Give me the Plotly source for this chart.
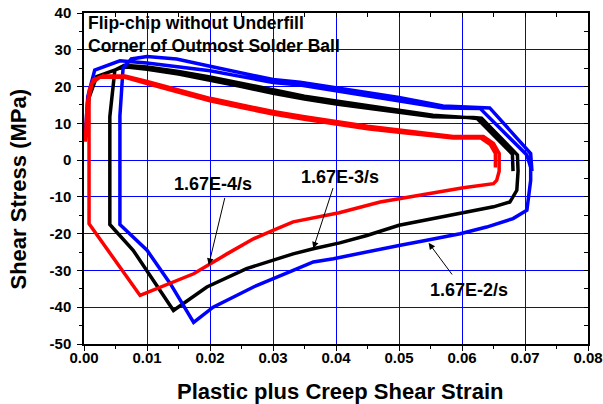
import plotly.graph_objects as go

# ---------------- data ----------------
# 1.67E-4/s (red)
strain_slow = [0.0002, 0.0005, 0.0009, 0.0015, 0.003, 0.0065, 0.010, 0.015, 0.020, 0.025,
               0.030, 0.035, 0.0405, 0.045, 0.050, 0.055, 0.0586, 0.0634, 0.065, 0.0659,
               0.0659, 0.0655, 0.065, 0.0602, 0.050, 0.047, 0.0405, 0.0332, 0.030, 0.0269,
               0.0227, 0.0174, 0.0089, 0.0008, 0.0008, 0.0013, 0.0025, 0.0065, 0.010, 0.015,
               0.020, 0.025, 0.030, 0.035, 0.0405, 0.045, 0.050, 0.055, 0.0586, 0.0630,
               0.0645, 0.0653, 0.0653]
stress_slow = [5.0, 15.0, 19.5, 21.8, 22.9, 22.9, 21.4, 19.0, 16.8, 15.0,
               13.2, 11.8, 10.3, 9.2, 8.2, 7.2, 6.4, 6.4, 4.5, 1.8,
               -3.0, -5.5, -6.4, -7.5, -10.5, -11.4, -14.3, -16.8, -19.1, -21.4,
               -25.5, -30.9, -36.8, -17.3, 17.0, 21.0, 22.5, 22.5, 20.8, 18.4,
               16.1, 14.3, 12.5, 11.1, 9.6, 8.5, 7.6, 6.6, 6.0, 6.0,
               4.2, 1.8, -2.0]

# 1.67E-3/s (black)
strain_mid = [0.0002, 0.0008, 0.002, 0.0057, 0.0068, 0.010, 0.015, 0.020, 0.025, 0.030,
              0.035, 0.0403, 0.045, 0.050, 0.0554, 0.0618, 0.0631, 0.0688, 0.0689, 0.0687,
              0.0676, 0.065, 0.0608, 0.0554, 0.050, 0.0449, 0.0406, 0.0364, 0.0332, 0.0258,
              0.0195, 0.0142, 0.011, 0.0078, 0.0041, 0.0041, 0.0049, 0.0064, 0.010, 0.015,
              0.020, 0.025, 0.030, 0.035, 0.0403, 0.045, 0.050, 0.0554, 0.0612, 0.0624,
              0.0680, 0.0681]
stress_mid = [6.0, 17.0, 22.7, 25.0, 25.3, 24.7, 23.4, 21.8, 20.0, 18.2,
              16.6, 15.2, 14.1, 13.0, 11.8, 11.6, 11.4, 1.4, -3.0, -8.2,
              -11.4, -12.7, -14.1, -15.9, -17.7, -20.5, -22.5, -24.1, -25.5, -29.5,
              -34.5, -40.9, -32.7, -24.5, -17.5, 11.8, 24.5, 25.8, 25.3, 24.1,
              22.6, 20.8, 19.0, 17.4, 16.0, 14.8, 13.6, 12.2, 11.5, 11.3,
              1.6, -3.0]

# 1.67E-2/s (blue)
strain_fast = [0.0002, 0.0006, 0.0017, 0.0057, 0.010, 0.015, 0.020, 0.025, 0.030, 0.0343,
               0.0401, 0.045, 0.050, 0.057, 0.0629, 0.0703, 0.0709, 0.0709, 0.0703, 0.0681,
               0.0639, 0.0597, 0.0544, 0.050, 0.0396, 0.0364, 0.0332, 0.0269, 0.0205, 0.0174,
               0.0137, 0.010, 0.0057, 0.0057, 0.0062, 0.0075, 0.010, 0.0147, 0.020, 0.025,
               0.030, 0.0343, 0.0401, 0.045, 0.050, 0.057, 0.0644, 0.0709, 0.0711]
stress_fast = [6.6, 17.3, 24.5, 27.0, 26.4, 25.3, 24.3, 22.7, 21.1, 20.4,
               18.8, 17.6, 16.3, 14.2, 14.0, 1.4, -2.0, -5.5, -13.6, -15.9,
               -18.2, -20.0, -21.8, -23.2, -26.8, -27.7, -30.0, -34.5, -40.0, -44.1,
               -33.6, -24.5, -17.5, 12.0, 25.0, 27.5, 28.2, 27.5, 25.5, 23.6,
               21.9, 21.2, 19.6, 18.4, 17.0, 14.7, 14.2, 1.8, -3.0]

x_ticks = [0.00, 0.01, 0.02, 0.03, 0.04, 0.05, 0.06, 0.07, 0.08]
x_ticklabels = ["0.00", "0.01", "0.02", "0.03", "0.04", "0.05", "0.06", "0.07", "0.08"]
y_ticks = [-50, -40, -30, -20, -10, 0, 10, 20, 30, 40]
y_ticklabels = ["-50", "-40", "-30", "-20", "-10", "0", "10", "20", "30", "40"]

rate_labels = ["1.67E-4/s", "1.67E-3/s", "1.67E-2/s"]
rate_colors = ["#FF0000", "#000000", "#0000FF"]
label_pos = [(0.0204, -6.5), (0.0407, -4.6), (0.0611, -35.3)]
arrow_tail = [(0.0224, -9.9), (0.0396, -7.2), (0.0586, -31.5)]
arrow_tip = [(0.0198, -28.5), (0.0364, -24.0), (0.0547, -22.5)]

title_lines = ["Flip-chip without Underfill", "Corner of Outmost Solder Ball"]
x_title = "Plastic plus Creep Shear Strain"
y_title = "Shear Stress (MPa)"

FONT = "Arial, Liberation Sans, sans-serif"

fig = go.Figure()
for xs, ys, col in [(strain_mid, stress_mid, rate_colors[1]),
                    (strain_fast, stress_fast, rate_colors[2]),
                    (strain_slow, stress_slow, rate_colors[0])]:
    fig.add_trace(go.Scatter(x=xs, y=ys, mode="lines",
                             line=dict(color=col, width=3.5),
                             showlegend=False, hoverinfo="skip"))

# helper invisible trace for mirrored inner ticks
fig.add_trace(go.Scatter(x=[0.04], y=[0], xaxis="x2", yaxis="y2", mode="markers",
                         marker=dict(opacity=0), showlegend=False, hoverinfo="skip"))

tickfont = dict(family=FONT, size=15, color="black", weight="bold")

fig.update_layout(
    width=603, height=404,
    margin=dict(l=84, r=15, t=13, b=60),
    plot_bgcolor="white", paper_bgcolor="white",
    showlegend=False,
    xaxis=dict(range=[0, 0.08], tickmode="array", tickvals=x_ticks,
               ticktext=["<b>%s</b>" % t for t in x_ticklabels],
               ticks="outside", ticklen=5, tickwidth=1.2, tickcolor="black",
               showline=True, linecolor="black", linewidth=1.5, mirror=True,
               showgrid=True, gridcolor="#0000FF", gridwidth=1, zeroline=False,
               tickfont=tickfont, ticklabelstandoff=-6, automargin=False,
               minor=dict(dtick=0.005, tick0=0, ticks="outside", ticklen=3, tickwidth=1.2,
                          tickcolor="black", showgrid=False)),
    yaxis=dict(range=[-50, 40], tickmode="array", tickvals=y_ticks,
               ticktext=["<b>%s</b>" % t for t in y_ticklabels],
               ticks="outside", ticklen=5, tickwidth=1.2, tickcolor="black",
               showline=True, linecolor="black", linewidth=1.5, mirror=True,
               showgrid=True, gridcolor="#0000FF", gridwidth=1, zeroline=False,
               tickfont=tickfont, ticklabelstandoff=3, automargin=False,
               minor=dict(dtick=5, tick0=0, ticks="outside", ticklen=3, tickwidth=1.2,
                          tickcolor="black", showgrid=False)),
    xaxis2=dict(overlaying="x", side="top", anchor="y", range=[0, 0.08], tick0=0,
                dtick=0.005, ticks="inside", ticklen=4, tickwidth=1.2, tickcolor="black",
                showticklabels=False, showgrid=False, zeroline=False, showline=False,
                automargin=False),
    yaxis2=dict(overlaying="y", side="right", anchor="x", range=[-50, 40], tick0=0,
                dtick=5, ticks="inside", ticklen=4, tickwidth=1.2, tickcolor="black",
                showticklabels=False, showgrid=False, zeroline=False, showline=False,
                automargin=False),
)

# plot-area pixel geometry for paper placement
L, R, T, B = 84, 588, 13, 344
def px(xp):
    return (xp - L) / (R - L)
def py(yp):
    return (B - yp) / (B - T)

ann = []
ann.append(dict(text="<b>%s</b>" % x_title, xref="paper", yref="paper",
                x=px(340), y=py(391), xanchor="center", yanchor="middle", showarrow=False,
                font=dict(family=FONT, size=22, color="black", weight="bold")))
ann.append(dict(text="<b>%s</b>" % y_title, xref="paper", yref="paper",
                x=px(17.5), y=py(189), xanchor="center", yanchor="middle",
                showarrow=False, textangle=-90,
                font=dict(family=FONT, size=22, color="black", weight="bold")))
for i, line in enumerate(title_lines):
    ann.append(dict(text="<b>%s</b>" % line, xref="paper", yref="paper",
                    x=px(86), y=py(23 + 23 * i), xanchor="left", yanchor="middle",
                    showarrow=False,
                    font=dict(family=FONT, size=17.5, color="black", weight="bold")))
for lab, (lx, ly) in zip(rate_labels, label_pos):
    ann.append(dict(text="<b>%s</b>" % lab, x=lx, y=ly, xref="x", yref="y",
                    xanchor="center", yanchor="middle", showarrow=False,
                    font=dict(family=FONT, size=18, color="black", weight="bold")))
for (tx, ty), (hx, hy) in zip(arrow_tail, arrow_tip):
    ann.append(dict(text="", x=hx, y=hy, ax=tx, ay=ty, xref="x", yref="y",
                    axref="x", ayref="y", showarrow=True, arrowhead=2,
                    arrowsize=1.3, arrowwidth=1, arrowcolor="black", standoff=0))
fig.update_layout(annotations=ann)

fig.write_html("out.html")
